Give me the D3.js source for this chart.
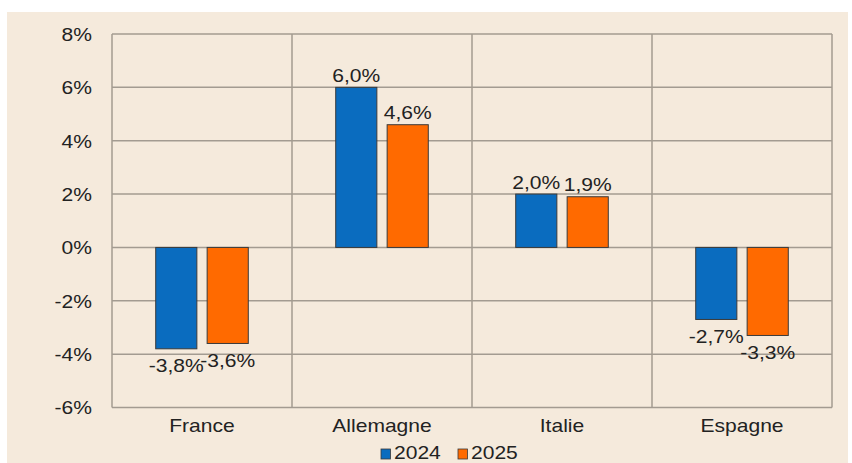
<!DOCTYPE html>
<html><head><meta charset="utf-8">
<script src="https://cdn.jsdelivr.net/npm/d3@7"></script>
<style>body{margin:0;background:#fff;}svg{display:block;}</style>
</head><body>
<script>
const categories = ["France", "Allemagne", "Italie", "Espagne"];
const seriesNames = ["2024", "2025"];
const values2024 = [-3.8, 6.0, 2.0, -2.7];
const values2025 = [-3.6, 4.6, 1.9, -3.3];
const yTicks = [-6, -4, -2, 0, 2, 4, 6, 8];
const colors = ["#0a6cbf", "#ff6a00"];

(function () {
const W = 852, H = 463;
const SX = 1.17, FS = 18;
const svg = d3.select("body").append("svg").attr("width", W).attr("height", H);
svg.append("rect").attr("x", 7).attr("y", 12).attr("width", 841).attr("height", 451).attr("fill", "#f5eadc");

const pL = 112, pR = 832, pT = 34, pB = 407.5;
const x = d3.scaleBand().domain(categories).range([pL, pR]).padding(0);
const y = d3.scaleLinear().domain([-6, 8]).range([pB, pT]);
const grid = "#a39b91";
const font = "Liberation Sans, Arial, sans-serif";

function label(sel, tx, ty, anchor, txt, dy) {
  sel.append("text")
    .attr("transform", `translate(${tx},${ty}) scale(${SX},1)`)
    .attr("text-anchor", anchor)
    .attr("dy", dy || 0)
    .attr("font-family", font).attr("font-size", FS).attr("fill", "#222")
    .text(txt);
}

// horizontal gridlines
svg.append("g").selectAll("line").data(yTicks).join("line")
  .attr("x1", pL).attr("x2", pR)
  .attr("y1", d => y(d)).attr("y2", d => y(d))
  .attr("stroke", grid).attr("stroke-width", 1.5);
// vertical gridlines
const bounds = categories.map(c => x(c)).concat([pR]);
svg.append("g").selectAll("line").data(bounds).join("line")
  .attr("x1", d => d).attr("x2", d => d)
  .attr("y1", pT).attr("y2", pB)
  .attr("stroke", grid).attr("stroke-width", 1.5);

// y axis labels
const ya = svg.append("g");
yTicks.forEach(t => label(ya, 92, y(t), "end", t + "%", "0.38em"));

// x axis labels
const xa = svg.append("g");
categories.forEach(c => label(xa, x(c) + x.bandwidth() / 2, 432, "middle", c));

const x1 = d3.scaleBand().domain(seriesNames).range([0, x.bandwidth()]).paddingInner(0.2).paddingOuter(0.85);
const series = [values2024, values2025];
const fmt = v => v.toFixed(1).replace(".", ",") + "%";

seriesNames.forEach((s, si) => {
  const data = categories.map((c, i) => ({c, v: series[si][i]}));
  const g = svg.append("g");
  g.selectAll("rect").data(data).join("rect")
    .attr("x", d => x(d.c) + x1(s))
    .attr("width", x1.bandwidth())
    .attr("y", d => y(Math.max(0, d.v)))
    .attr("height", d => Math.abs(y(d.v) - y(0)))
    .attr("fill", colors[si]).attr("stroke", "#3a3a3a").attr("stroke-width", 1);
  const lg = svg.append("g");
  data.forEach(d => label(lg, x(d.c) + x1(s) + x1.bandwidth() / 2,
    d.v >= 0 ? y(d.v) - 5.5 : y(d.v) + 23.5, "middle", fmt(d.v)));
});

// legend
const leg = svg.append("g");
const legX = [381, 458];
seriesNames.forEach((s, i) => {
  leg.append("rect").attr("x", legX[i]).attr("y", 449).attr("width", 9.5).attr("height", 10)
    .attr("fill", colors[i]).attr("stroke", "#3a3a3a").attr("stroke-width", 0.8);
  label(leg, legX[i] + 13, 459, "start", s);
});
})();
</script>
</body></html>
